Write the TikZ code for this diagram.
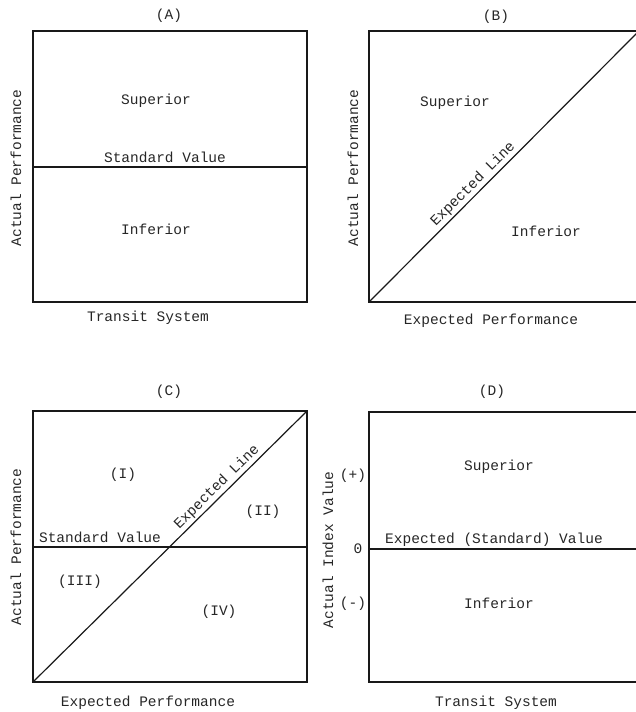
\documentclass[tikz,border=0pt]{standalone}
\usepackage{fontspec}
\setmainfont{Liberation Mono}
\begin{document}
\begin{tikzpicture}[x=1pt,y=-1pt,
  lbl/.style={font=\fontsize{14.5}{15}\selectfont, inner sep=1pt, text=black!85},
  frame/.style={line width=1.7pt, draw=black!90},
  divline/.style={line width=1.5pt, draw=black!90},
  diag/.style={line width=1.2pt, draw=black!90}]
\useasboundingbox (0,0) rectangle (636,712);

% ---------- (A)
\coordinate (a1) at (33,31); \coordinate (a2) at (307,302);
\coordinate (aL) at (33,167); \coordinate (aR) at (307,167);
\draw[frame] (a1) rectangle (a2);
\draw[divline] (aL) -- (aR);
\node[lbl] (aT) at (169,16) {(A)};
\node[lbl] (aS) at (156,101) {Superior};
\node[lbl] (aV) at (165,157) {Standard Value};
\node[lbl] (aI) at (156,229) {Inferior};
\node[lbl] (aX) at (148,318) {Transit System};
\node[lbl, rotate=90] (aY) at (16,168) {Actual Performance};

% ---------- (B)
\coordinate (b1) at (369,31); \coordinate (b2) at (639,302);
\coordinate (bBL) at (369,302); \coordinate (bTR) at (639,31);
\draw[frame] (b1) rectangle (b2);
\draw[diag] (bBL) -- node[lbl, sloped, above, pos=0.41, inner sep=2pt] (bE) {Expected Line} (bTR);
\node[lbl] (bT) at (496,17) {(B)};
\node[lbl] (bS) at (455,103) {Superior};
\node[lbl] (bI) at (546,231) {Inferior};
\node[lbl] (bX) at (491,321) {Expected Performance};
\node[lbl, rotate=90] (bY) at (353,168) {Actual Performance};

% ---------- (C)
\coordinate (c1) at (33,411); \coordinate (c2) at (307,682);
\coordinate (cBL) at (33,682); \coordinate (cTR) at (307,411);
\coordinate (cL) at (33,547); \coordinate (cR) at (307,547);
\draw[frame] (c1) rectangle (c2);
\draw[divline] (cL) -- (cR);
\draw[diag] (cBL) -- node[lbl, sloped, above, pos=0.695, inner sep=2pt] (cE) {Expected Line} (cTR);
\node[lbl] (cT) at (169,392) {(C)};
\node[lbl] (c1t) at (123,475) {(I)};
\node[lbl] (c2t) at (263,512) {(II)};
\node[lbl] (cV) at (100,537) {Standard Value};
\node[lbl] (c3t) at (80,582) {(III)};
\node[lbl] (c4t) at (219,612) {(IV)};
\node[lbl] (cX) at (148,703) {Expected Performance};
\node[lbl, rotate=90] (cY) at (16,547) {Actual Performance};

% ---------- (D)
\coordinate (d1) at (369,412); \coordinate (d2) at (639,682);
\coordinate (dL) at (369,549); \coordinate (dR) at (639,549);
\draw[frame] (d1) rectangle (d2);
\draw[divline] (dL) -- (dR);
\node[lbl] (dT) at (492,392) {(D)};
\node[lbl] (dS) at (499,467) {Superior};
\node[lbl] (dV) at (494,540) {Expected (Standard) Value};
\node[lbl] (dI) at (499,603) {Inferior};
\node[lbl] (dX) at (496,703) {Transit System};
\node[lbl, rotate=90] (dY) at (328,550) {Actual Index Value};
\node[lbl] (dP) at (353,476) {(+)};
\node[lbl] (d0) at (358,549) {0};
\node[lbl] (dM) at (353,604) {(-)};
\end{tikzpicture}
\end{document}
